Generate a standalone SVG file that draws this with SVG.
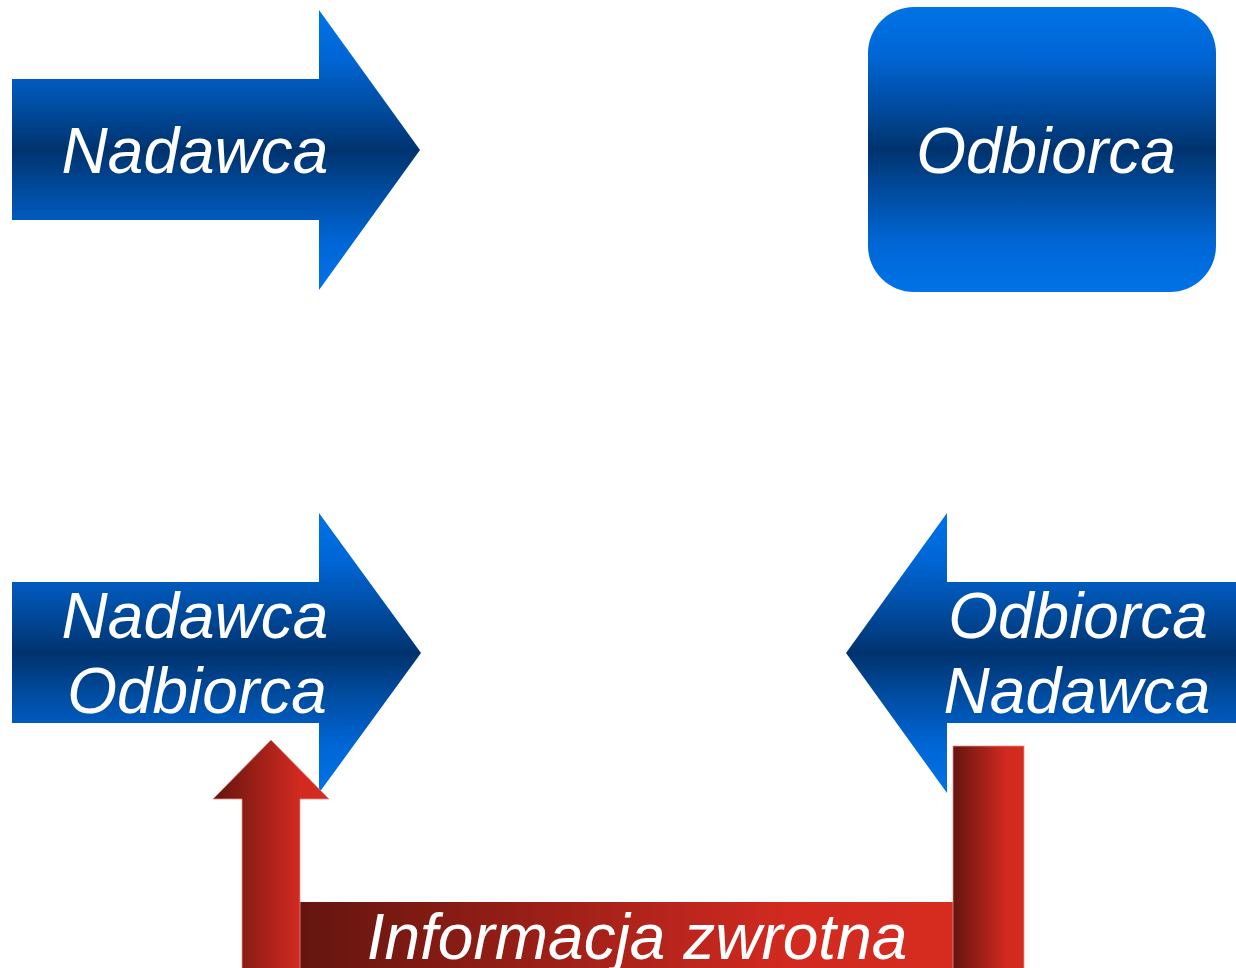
<svg xmlns="http://www.w3.org/2000/svg" width="1236" height="968" viewBox="0 0 1236 968">
  <defs>
    <linearGradient id="blueV" x1="0" y1="0" x2="0" y2="1">
      <stop offset="0" stop-color="#0073e6"/>
      <stop offset="0.17" stop-color="#0066d6"/>
      <stop offset="0.36" stop-color="#004a9c"/>
      <stop offset="0.5" stop-color="#00336e"/>
      <stop offset="0.64" stop-color="#004a9c"/>
      <stop offset="0.83" stop-color="#0066d6"/>
      <stop offset="1" stop-color="#0073e6"/>
    </linearGradient>
    <linearGradient id="redH" x1="0" y1="0" x2="1" y2="0">
      <stop offset="0" stop-color="#64150f"/>
      <stop offset="0.75" stop-color="#d22a20"/>
      <stop offset="1" stop-color="#d62c20"/>
    </linearGradient>
  </defs>
  <style>
    .blue { fill: url(#blueV); }
    .red { fill: url(#redH); stroke: #e09090; stroke-width: 0.8; }
    .lbl { font-family: "Liberation Sans", Arial, sans-serif; font-style: italic; font-size: 64px; fill: #ffffff; text-anchor: middle; }
  </style>

  <g id="nadawca-top">
    <path class="blue" d="M12,79 H319 V10 L420,150 L319,290 V220 H12 Z"/>
    <text class="lbl" x="195" y="173">Nadawca</text>
  </g>

  <g id="odbiorca-top">
    <rect class="blue" x="868" y="7" width="348" height="285" rx="46" ry="46"/>
    <text class="lbl" x="1046" y="173">Odbiorca</text>
  </g>

  <g id="nadawca-odbiorca">
    <path class="blue" d="M12,582 H319 V513 L421,653 L319,793 V723 H12 Z"/>
    <text class="lbl" x="195" y="638">Nadawca</text>
    <text class="lbl" x="197" y="713">Odbiorca</text>
  </g>

  <g id="odbiorca-nadawca">
    <path class="blue" d="M1236,582 H947 V513 L846,653 L947,793 V723 H1236 Z"/>
    <text class="lbl" x="1078" y="638">Odbiorca</text>
    <text class="lbl" x="1077" y="713">Nadawca</text>
  </g>

  <g id="connectors">
    <rect x="300" y="902" width="653" height="70" fill="url(#redH)"/>
    <rect class="red" x="953" y="746" width="71" height="226"/>
    <path class="red" d="M242,972 V799 H213 L271,740 L329,799 H300 V972 Z"/>
  </g>

  <g id="informacja-zwrotna">
    <text class="lbl" x="637" y="959">Informacja zwrotna</text>
  </g>
</svg>
